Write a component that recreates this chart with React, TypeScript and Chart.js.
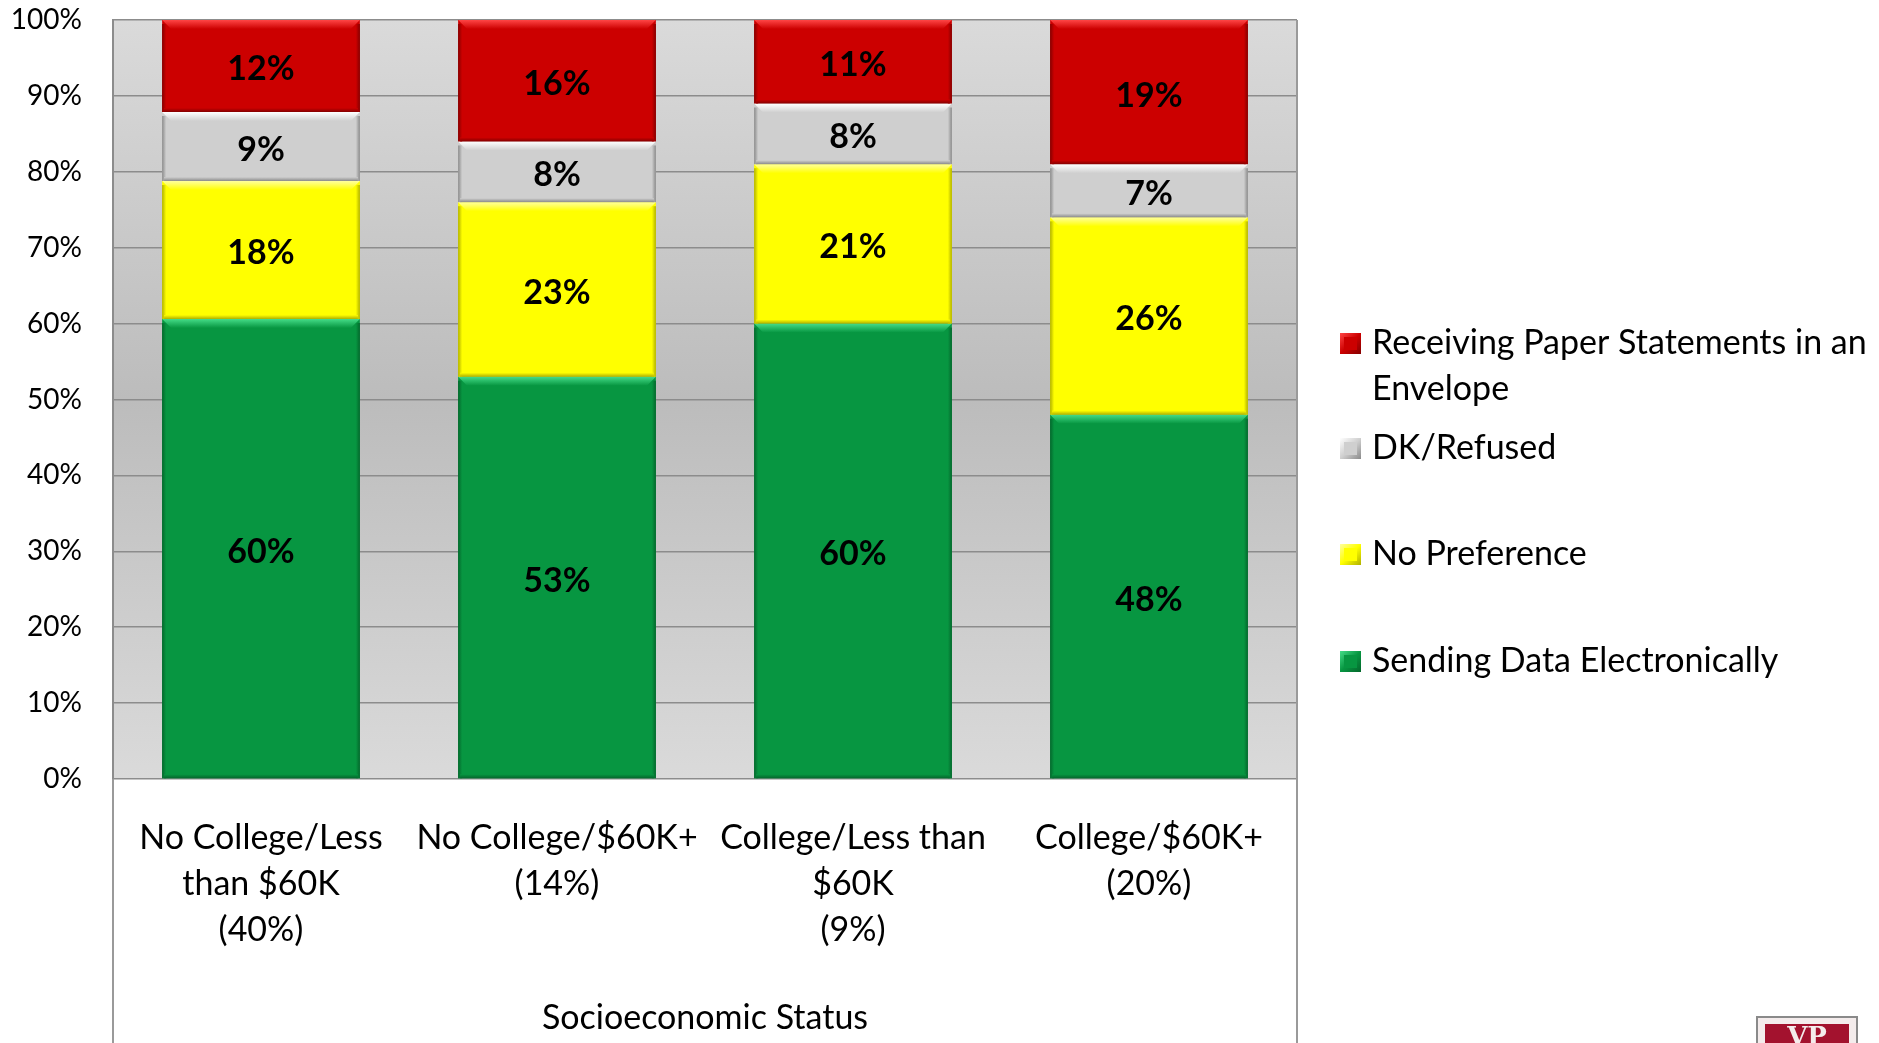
import React, { useEffect, useRef } from "react";
import { Chart, registerables } from "chart.js";

Chart.register(...registerables);

// ---------- data ----------
const categoryLabels: string[][] = [
  ["No College/Less", "than $60K", "(40%)"],
  ["No College/$60K+", "(14%)"],
  ["College/Less than", "$60K", "(9%)"],
  ["College/$60K+", "(20%)"],
];
const seriesNames = [
  "Sending Data Electronically",
  "No Preference",
  "DK/Refused",
  "Receiving Paper Statements in an Envelope",
];
const sendingElectronically = [60, 53, 60, 48];
const noPreference = [18, 23, 21, 26];
const dkRefused = [9, 8, 8, 7];
const paperStatements = [12, 16, 11, 19];
const yTickValues = [0, 10, 20, 30, 40, 50, 60, 70, 80, 90, 100];
const xAxisTitle = "Socioeconomic Status";
// legend text lines (as wrapped in the original), top to bottom
const legendLines: string[][] = [
  ["Receiving Paper Statements in an", "Envelope"],
  ["DK/Refused"],
  ["No Preference"],
  ["Sending Data Electronically"],
];

// ---------- styling ----------
const FONT = "Lato, 'Open Sans', sans-serif";
const seriesStyles = [
  { fill: "#079641", light: "#45DC88", dark: "#04672C" },
  { fill: "#FFFF00", light: "#FFFF9E", dark: "#B0B000" },
  { fill: "#CFCFCF", light: "#FFFFFF", dark: "#8A8A8A" },
  { fill: "#CC0000", light: "#FF4545", dark: "#840000" },
];

const seriesRaw = [sendingElectronically, noPreference, dkRefused, paperStatements];
const totals = categoryLabels.map((_, i) =>
  seriesRaw.reduce((s, arr) => s + arr[i], 0)
);
const toShare = (arr: number[]) => arr.map((v, i) => (v / totals[i]) * 100);

const decorPlugin = {
  id: "decor",
  beforeDraw(chart: any) {
    const { ctx, chartArea: a, width, height } = chart;
    ctx.save();
    ctx.fillStyle = "#ffffff";
    ctx.fillRect(0, 0, width, height);
    const g = ctx.createLinearGradient(0, a.top, 0, a.bottom);
    g.addColorStop(0, "#DADADA");
    g.addColorStop(0.5, "#BCBCBC");
    g.addColorStop(1, "#DADADA");
    ctx.fillStyle = g;
    ctx.fillRect(a.left, a.top, a.right - a.left, a.bottom - a.top);
    ctx.restore();
  },
  afterDatasetsDraw(chart: any) {
    const { ctx, chartArea: a, height } = chart;
    ctx.save();
    // bevel effects
    chart.data.datasets.forEach((ds: any, k: number) => {
      const st = seriesStyles[k];
      const meta = chart.getDatasetMeta(k);
      meta.data.forEach((el: any, i: number) => {
        const { x, y, base, width } = el.getProps(["x", "y", "base", "width"], true);
        const l = x - width / 2;
        const r = x + width / 2;
        const t = Math.min(y, base);
        const b = Math.max(y, base);
        const bev = 9;
        // top highlight
        const gt = ctx.createLinearGradient(0, t, 0, t + bev);
        gt.addColorStop(0, st.light);
        gt.addColorStop(1, st.fill);
        ctx.fillStyle = gt;
        ctx.beginPath();
        ctx.moveTo(l, t);
        ctx.lineTo(r, t);
        ctx.lineTo(r - bev, t + bev);
        ctx.lineTo(l + bev, t + bev);
        ctx.closePath();
        ctx.fill();
        // sides
        const gl = ctx.createLinearGradient(l, 0, l + 4, 0);
        gl.addColorStop(0, st.dark);
        gl.addColorStop(1, st.fill);
        ctx.fillStyle = gl;
        ctx.fillRect(l, t + 4, 4, b - t - 4);
        const gr = ctx.createLinearGradient(r - 4, 0, r, 0);
        gr.addColorStop(0, st.fill);
        gr.addColorStop(1, st.dark);
        ctx.fillStyle = gr;
        ctx.fillRect(r - 4, t + 4, 4, b - t - 4);
        // bottom shadow
        const gb = ctx.createLinearGradient(0, b - 4, 0, b);
        gb.addColorStop(0, st.fill);
        gb.addColorStop(1, st.dark);
        ctx.fillStyle = gb;
        ctx.fillRect(l + 2, b - 4, r - l - 4, 4);
        // value label
        ctx.fillStyle = "#000";
        ctx.font = `bold 34px ${FONT}`;
        ctx.textAlign = "center";
        ctx.textBaseline = "middle";
        ctx.fillText(`${ds.raw[i]}%`, x, (t + b) / 2 + 3.5);
      });
    });
    // frame lines
    ctx.strokeStyle = "#9A9A9A";
    ctx.lineWidth = 2;
    ctx.beginPath();
    ctx.moveTo(a.right, a.top);
    ctx.lineTo(a.right, height);
    ctx.moveTo(a.left, a.bottom);
    ctx.lineTo(a.left, height);
    ctx.stroke();

    // legend
    const nDs = chart.data.datasets.length;
    const rowY = [343.5, 448.5, 554.5, 661.5];
    legendLines.forEach((lines, j) => {
      const k = nDs - 1 - j;
      const st = seriesStyles[k];
      const cy = rowY[j];
      const sx = 1340;
      const sz = 21;
      const gsq = ctx.createLinearGradient(sx, cy - sz / 2, sx + sz, cy + sz / 2);
      gsq.addColorStop(0, st.light);
      gsq.addColorStop(0.5, st.fill);
      gsq.addColorStop(1, st.dark);
      ctx.fillStyle = gsq;
      ctx.fillRect(sx, cy - sz / 2, sz, sz);
      ctx.fillStyle = st.fill;
      ctx.fillRect(sx + 4, cy - sz / 2 + 4, sz - 8, sz - 8);
      ctx.fillStyle = "#000";
      ctx.font = `34px ${FONT}`;
      ctx.textAlign = "left";
      ctx.textBaseline = "middle";
      lines.forEach((ln, m) => ctx.fillText(ln, 1372, cy + m * 46));
    });

    // corner logo fragment
    ctx.fillStyle = "#F4ECEC";
    ctx.fillRect(1757, 1017, 100, 30);
    ctx.strokeStyle = "#8A8A8A";
    ctx.lineWidth = 2;
    ctx.strokeRect(1757, 1017, 100, 30);
    ctx.fillStyle = "#A3122E";
    ctx.fillRect(1765, 1024, 84, 22);
    ctx.fillStyle = "#F4ECEC";
    ctx.font = `bold 26px 'DejaVu Serif', serif`;
    ctx.textAlign = "center";
    ctx.textBaseline = "top";
    ctx.fillText("VP", 1807, 1025);
    ctx.restore();
  },
};

export default function App() {
  const ref = useRef<HTMLCanvasElement | null>(null);
  useEffect(() => {
    if (!ref.current) return;
    const chart = new Chart(ref.current, {
      type: "bar",
      data: {
        labels: categoryLabels as any,
        datasets: seriesRaw.map((arr, k) => ({
          label: seriesNames[k],
          data: toShare(arr),
          raw: arr,
          backgroundColor: seriesStyles[k].fill,
          borderWidth: 0,
          barPercentage: 0.668,
          categoryPercentage: 1,
        })) as any,
      },
      options: {
        animation: false,
        responsive: true,
        maintainAspectRatio: false,
        layout: { padding: { top: 20, right: 582, left: 0, bottom: 0 } },
        plugins: {
          legend: { display: false },
          tooltip: { enabled: false },
        },
        scales: {
          x: {
            stacked: true,
            grid: { display: false, drawTicks: false },
            border: { display: false },
            ticks: {
              color: "#000",
              font: { family: FONT, size: 34, lineHeight: 46 / 34 },
              padding: 36,
              maxRotation: 0,
              autoSkip: false,
            },
            title: {
              display: true,
              text: xAxisTitle,
              color: "#000",
              font: { family: FONT, size: 34 },
              padding: { top: 0, bottom: 5 },
            },
            afterFit: (s: any) => {
              s.height = 264;
              s.paddingLeft = 0;
              s.paddingRight = 0;
            },
          },
          y: {
            stacked: true,
            min: 0,
            max: 100,
            grid: { color: "#8C8C8C", lineWidth: 1.5, drawTicks: false },
            border: { display: true, color: "#8C8C8C", width: 2 },
            ticks: {
              color: "#000",
              font: { family: FONT, size: 28 },
              padding: 31,
              callback: (v: any) => `${v}%`,
            },
            afterBuildTicks: (s: any) => {
              s.ticks = yTickValues.map((v) => ({ value: v }));
            },
            afterFit: (s: any) => {
              s.width = 113;
              s.paddingTop = 0;
              s.paddingBottom = 0;
            },
          },
        },
      } as any,
      plugins: [decorPlugin],
    });
    return () => chart.destroy();
  }, []);
  return (
    <div style={{ position: "absolute", left: 0, top: 0, width: 1879, height: 1043 }}>
      <canvas ref={ref} />
    </div>
  );
}
